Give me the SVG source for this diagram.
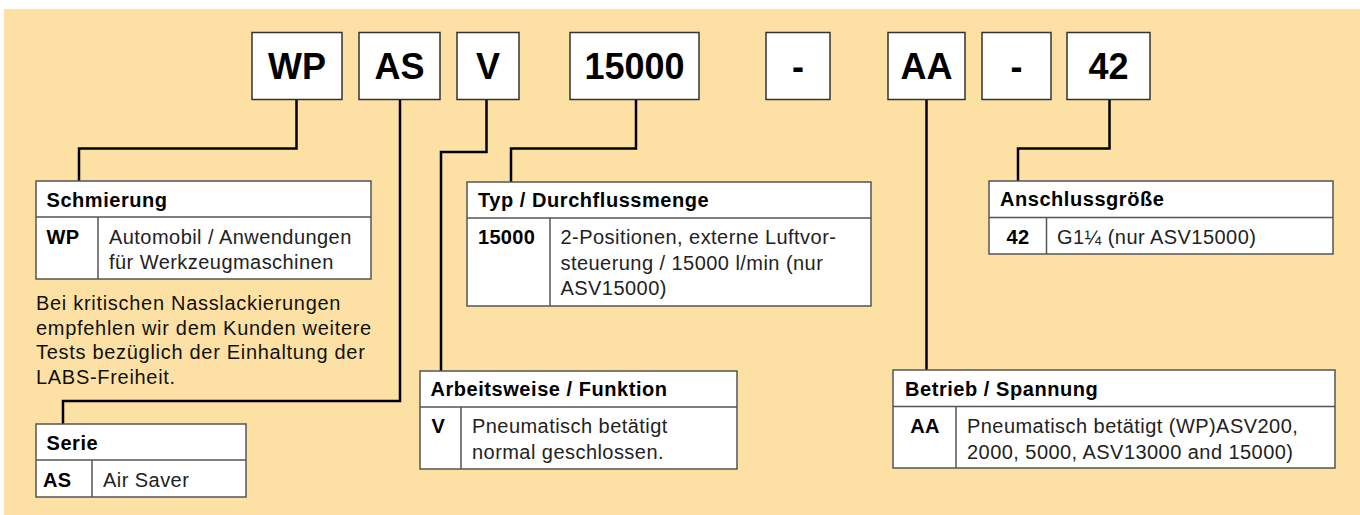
<svg xmlns="http://www.w3.org/2000/svg" width="1360" height="515" viewBox="0 0 1360 515">
<style>
.code rect{fill:#fff;stroke:#333;stroke-width:1.5}
.code text{font-family:"Liberation Sans",Arial,sans-serif;font-weight:bold;font-size:36px;fill:#000;text-anchor:middle}
.tbl rect,.tbl line{fill:#fff;stroke:#555;stroke-width:1.5}
.h{font-family:"Liberation Sans",Arial,sans-serif;font-weight:bold;font-size:20px;letter-spacing:0.55px;fill:#000}
.k{font-family:"Liberation Sans",Arial,sans-serif;font-weight:bold;font-size:20px;letter-spacing:0.3px;fill:#000}
.d{font-family:"Liberation Sans",Arial,sans-serif;font-size:20px;letter-spacing:0.45px;fill:#222}
.n{font-family:"Liberation Sans",Arial,sans-serif;font-size:20px;letter-spacing:0.7px;fill:#111}
#connectors polyline{fill:none;stroke:#000;stroke-width:2.5}
</style>
<rect x="4" y="9" width="1356" height="506" fill="#FDE1A4"/>
<g id="connectors">
<polyline points="296.5,99 296.5,148.5 79,148.5 79,181"/>
<polyline points="400,99 400,401 63,401 63,424"/>
<polyline points="486.5,99 486.5,152 441,152 441,371"/>
<polyline points="636,99 636,148.5 511,148.5 511,182"/>
<polyline points="926.5,99 926.5,370"/>
<polyline points="1109.5,99 1109.5,148.5 1018,148.5 1018,181"/>
</g>
<g id="code-wp" class="code"><rect x="252" y="32.5" width="90" height="67"/><text x="297" y="79">WP</text></g>
<g id="code-as" class="code"><rect x="359" y="32.5" width="81" height="67"/><text x="399.5" y="79">AS</text></g>
<g id="code-v" class="code"><rect x="457" y="32.5" width="62" height="67"/><text x="488" y="79">V</text></g>
<g id="code-15000" class="code"><rect x="570" y="32.5" width="129" height="67"/><text x="634.5" y="79">15000</text></g>
<g id="code-dash1" class="code"><rect x="766" y="32.5" width="64" height="67"/><text x="798" y="79">-</text></g>
<g id="code-aa" class="code"><rect x="888" y="32.5" width="77" height="67"/><text x="926.5" y="79">AA</text></g>
<g id="code-dash2" class="code"><rect x="982" y="32.5" width="69" height="67"/><text x="1016.5" y="79">-</text></g>
<g id="code-42" class="code"><rect x="1067" y="32.5" width="83" height="67"/><text x="1108.5" y="79">42</text></g>

<g id="tbl-schmierung" class="tbl">
<rect x="36" y="181" width="335" height="98"/>
<line x1="36" y1="217" x2="371" y2="217"/><line x1="98" y1="217" x2="98" y2="279"/>
<text class="h" x="46.5" y="206.5">Schmierung</text>
<text class="k" x="46.5" y="244">WP</text>
<text class="d" x="109" y="244">Automobil / Anwendungen</text>
<text class="d" x="109" y="269">für Werkzeugmaschinen</text>
</g>
<g id="note">
<text class="n" x="36" y="310">Bei kritischen Nasslackierungen</text>
<text class="n" x="36" y="334.5">empfehlen wir dem Kunden weitere</text>
<text class="n" x="36" y="359">Tests bezüglich der Einhaltung der</text>
<text class="n" x="36" y="383.5">LABS-Freiheit.</text>
</g>
<g id="tbl-typ" class="tbl">
<rect x="467" y="182" width="404" height="124"/>
<line x1="467" y1="218" x2="871" y2="218"/><line x1="550" y1="218" x2="550" y2="306"/>
<text class="h" x="478" y="206.5">Typ / Durchflussmenge</text>
<text class="k" x="478" y="243.5">15000</text>
<text class="d" x="560.5" y="243.5">2-Positionen, externe Luftvor-</text>
<text class="d" x="560.5" y="269.5">steuerung / 15000 l/min (nur</text>
<text class="d" x="560.5" y="295">ASV15000)</text>
</g>
<g id="tbl-anschluss" class="tbl">
<rect x="989" y="181" width="344" height="73"/>
<line x1="989" y1="217.5" x2="1333" y2="217.5"/><line x1="1046.5" y1="217.5" x2="1046.5" y2="254"/>
<text class="h" x="1000" y="206">Anschlussgröße</text>
<text class="k" x="1018" y="243.5" text-anchor="middle">42</text>
<text class="d" x="1057" y="243.5">G1¼ (nur ASV15000)</text>
</g>
<g id="tbl-arbeitsweise" class="tbl">
<rect x="420" y="371" width="317" height="98"/>
<line x1="420" y1="407" x2="737" y2="407"/><line x1="461" y1="407" x2="461" y2="469"/>
<text class="h" x="430.5" y="396">Arbeitsweise / Funktion</text>
<text class="k" x="431.5" y="432.5">V</text>
<text class="d" x="472" y="432.5">Pneumatisch betätigt</text>
<text class="d" x="472" y="459">normal geschlossen.</text>
</g>
<g id="tbl-betrieb" class="tbl">
<rect x="893" y="370" width="442" height="98"/>
<line x1="893" y1="406.5" x2="1335" y2="406.5"/><line x1="956" y1="406.5" x2="956" y2="468"/>
<text class="h" x="905" y="395.5">Betrieb / Spannung</text>
<text class="k" x="925" y="432.5" text-anchor="middle">AA</text>
<text class="d" x="967" y="432.5">Pneumatisch betätigt (WP)ASV200,</text>
<text class="d" x="967" y="458.5">2000, 5000, ASV13000 and 15000)</text>
</g>
<g id="tbl-serie" class="tbl">
<rect x="36" y="424" width="210" height="73"/>
<line x1="36" y1="460" x2="246" y2="460"/><line x1="92" y1="460" x2="92" y2="497"/>
<text class="h" x="46.5" y="449.5">Serie</text>
<text class="k" x="43" y="486.5">AS</text>
<text class="d" x="103" y="486.5">Air Saver</text>
</g>
</svg>
